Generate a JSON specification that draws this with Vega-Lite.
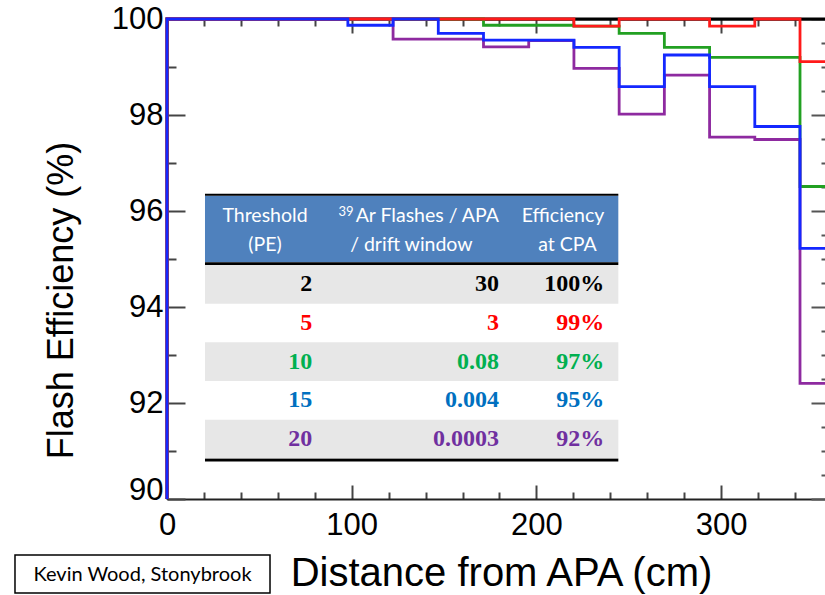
{
  "$schema": "https://vega.github.io/schema/vega-lite/v6.json",
  "width": 658,
  "height": 480,
  "autosize": {"type": "none"},
  "padding": {"left": 167, "top": 19, "right": 0, "bottom": 96},
  "background": "white",
  "config": {"view": {"stroke": null}, "font": "Liberation Sans"},
  "layer": [
    {
      "data": {"values": [
        {"pe":2,"x":0,"eff":90},{"pe":2,"x":0,"eff":100},{"pe":2,"x":24.48,"eff":100},{"pe":2,"x":48.96,"eff":100},{"pe":2,"x":73.44,"eff":100},{"pe":2,"x":97.92,"eff":100},{"pe":2,"x":122.4,"eff":100},{"pe":2,"x":146.88,"eff":100},{"pe":2,"x":171.36,"eff":100},{"pe":2,"x":195.84,"eff":100},{"pe":2,"x":220.32,"eff":100},{"pe":2,"x":244.8,"eff":100},{"pe":2,"x":269.28,"eff":100},{"pe":2,"x":293.76,"eff":100},{"pe":2,"x":318.24,"eff":100},{"pe":2,"x":342.72,"eff":100},{"pe":2,"x":367.2,"eff":100},
        {"pe":5,"x":0,"eff":90},{"pe":5,"x":0,"eff":100},{"pe":5,"x":24.48,"eff":100},{"pe":5,"x":48.96,"eff":100},{"pe":5,"x":73.44,"eff":100},{"pe":5,"x":97.92,"eff":100},{"pe":5,"x":122.4,"eff":100},{"pe":5,"x":146.88,"eff":100},{"pe":5,"x":171.36,"eff":100},{"pe":5,"x":195.84,"eff":100},{"pe":5,"x":220.32,"eff":99.85},{"pe":5,"x":244.8,"eff":100},{"pe":5,"x":269.28,"eff":100},{"pe":5,"x":293.76,"eff":99.85},{"pe":5,"x":318.24,"eff":100},{"pe":5,"x":342.72,"eff":99.11},{"pe":5,"x":367.2,"eff":99.11},
        {"pe":10,"x":0,"eff":90},{"pe":10,"x":0,"eff":100},{"pe":10,"x":24.48,"eff":100},{"pe":10,"x":48.96,"eff":100},{"pe":10,"x":73.44,"eff":100},{"pe":10,"x":97.92,"eff":100},{"pe":10,"x":122.4,"eff":100},{"pe":10,"x":146.88,"eff":100},{"pe":10,"x":171.36,"eff":99.87},{"pe":10,"x":195.84,"eff":99.87},{"pe":10,"x":220.32,"eff":99.85},{"pe":10,"x":244.8,"eff":99.7},{"pe":10,"x":269.28,"eff":99.41},{"pe":10,"x":293.76,"eff":99.2},{"pe":10,"x":318.24,"eff":99.2},{"pe":10,"x":342.72,"eff":96.51},{"pe":10,"x":367.2,"eff":96.51},
        {"pe":15,"x":0,"eff":90},{"pe":15,"x":0,"eff":100},{"pe":15,"x":24.48,"eff":100},{"pe":15,"x":48.96,"eff":100},{"pe":15,"x":73.44,"eff":100},{"pe":15,"x":97.92,"eff":99.87},{"pe":15,"x":122.4,"eff":100},{"pe":15,"x":146.88,"eff":99.7},{"pe":15,"x":171.36,"eff":99.56},{"pe":15,"x":195.84,"eff":99.56},{"pe":15,"x":220.32,"eff":99.41},{"pe":15,"x":244.8,"eff":98.59},{"pe":15,"x":269.28,"eff":99.25},{"pe":15,"x":293.76,"eff":98.59},{"pe":15,"x":318.24,"eff":97.76},{"pe":15,"x":342.72,"eff":95.22},{"pe":15,"x":367.2,"eff":95.22},
        {"pe":20,"x":0,"eff":90},{"pe":20,"x":0,"eff":100},{"pe":20,"x":24.48,"eff":100},{"pe":20,"x":48.96,"eff":100},{"pe":20,"x":73.44,"eff":100},{"pe":20,"x":97.92,"eff":100},{"pe":20,"x":122.4,"eff":99.58},{"pe":20,"x":146.88,"eff":99.58},{"pe":20,"x":171.36,"eff":99.42},{"pe":20,"x":195.84,"eff":99.55},{"pe":20,"x":220.32,"eff":98.97},{"pe":20,"x":244.8,"eff":98.02},{"pe":20,"x":269.28,"eff":98.83},{"pe":20,"x":293.76,"eff":97.54},{"pe":20,"x":318.24,"eff":97.49},{"pe":20,"x":342.72,"eff":92.41},{"pe":20,"x":367.2,"eff":92.41}
      ]},
      "layer": [
        {
          "transform": [{"filter": "datum.pe == 2"}],
          "mark": {"type": "line", "interpolate": "step-after", "strokeWidth": 2.8, "color": "#000000"},
          "encoding": {
            "x": {"field": "x", "type": "quantitative", "scale": {"domain": [0, 356.25], "nice": false, "zero": false},
              "axis": {"orient": "bottom", "values": [0,20,40,60,80,100,120,140,160,180,200,220,240,260,280,300,320,340],
                "format": "d",
                "tickSize": {"condition": {"test": "datum.value % 100 === 0", "value": -14}, "value": -7},
                "labelExpr": "datum.value % 100 === 0 ? datum.label : ''",
                "labelPadding": 25, "labelFontSize": 31, "labelColor": "#000", "labelFlush": false, "labelOverlap": false,
                "tickColor": "#444", "tickWidth": 2, "domainColor": "#222", "domainWidth": 2, "grid": false,
                "title": "Distance from APA (cm)", "titleFontSize": 40, "titleFontWeight": "normal", "titleColor": "#000",
                "titleX": 334, "titleY": 86, "titleBaseline": "alphabetic", "titleAlign": "center"}},
            "y": {"field": "eff", "type": "quantitative", "scale": {"domain": [90, 100], "nice": false, "zero": false},
              "axis": {"orient": "left", "values": [90,90.5,91,91.5,92,92.5,93,93.5,94,94.5,95,95.5,96,96.5,97,97.5,98,98.5,99,99.5,100],
                "format": "d",
                "tickSize": {"condition": {"test": "datum.value % 2 === 0", "value": -18}, "value": -9},
                "labelExpr": "datum.value % 2 === 0 ? datum.label : ''",
                "labelBaseline": {"condition": {"test": "datum.value === 90", "value": "alphabetic"}, "value": "middle"},
                "labelPadding": 22, "labelFontSize": 31, "labelColor": "#000", "labelFlush": false, "labelOverlap": false,
                "tickColor": "#444", "tickWidth": 2, "domainColor": "#222", "domainWidth": 2, "grid": false,
                "title": "Flash Efficiency (%)", "titleFontSize": 36, "titleFontWeight": "normal", "titleColor": "#000",
                "titleX": -95, "titleY": 281, "titleBaseline": "alphabetic", "titleAlign": "center", "titleAngle": 270}}
          }
        },
        {
          "transform": [{"filter": "datum.pe == 10"}],
          "mark": {"type": "line", "interpolate": "step-after", "strokeWidth": 2.8, "color": "#22a022"},
          "encoding": {
            "x": {"field": "x", "type": "quantitative", "scale": {"domain": [0, 356.25], "nice": false, "zero": false}, "axis": null},
            "y": {"field": "eff", "type": "quantitative", "scale": {"domain": [90, 100], "nice": false, "zero": false}, "axis": null}
          }
        },
        {
          "transform": [{"filter": "datum.pe == 20"}],
          "mark": {"type": "line", "interpolate": "step-after", "strokeWidth": 2.8, "color": "#8e2aa0"},
          "encoding": {
            "x": {"field": "x", "type": "quantitative", "scale": {"domain": [0, 356.25], "nice": false, "zero": false}, "axis": null},
            "y": {"field": "eff", "type": "quantitative", "scale": {"domain": [90, 100], "nice": false, "zero": false}, "axis": null}
          }
        },
        {
          "transform": [{"filter": "datum.pe == 5"}],
          "mark": {"type": "line", "interpolate": "step-after", "strokeWidth": 2.8, "color": "#ff1a1a"},
          "encoding": {
            "x": {"field": "x", "type": "quantitative", "scale": {"domain": [0, 356.25], "nice": false, "zero": false}, "axis": null},
            "y": {"field": "eff", "type": "quantitative", "scale": {"domain": [90, 100], "nice": false, "zero": false}, "axis": null}
          }
        },
        {
          "transform": [{"filter": "datum.pe == 15"}],
          "mark": {"type": "line", "interpolate": "step-after", "strokeWidth": 2.8, "color": "#1428ff"},
          "encoding": {
            "x": {"field": "x", "type": "quantitative", "scale": {"domain": [0, 356.25], "nice": false, "zero": false}, "axis": null},
            "y": {"field": "eff", "type": "quantitative", "scale": {"domain": [90, 100], "nice": false, "zero": false}, "axis": null}
          }
        },
        {
          "data": {"values": [{}]},
          "mark": {"type": "rect", "color": "#4f81bd"},
          "encoding": {
            "x": {"datum": 20.57, "type": "quantitative", "scale": {"domain": [0, 356.25], "nice": false, "zero": false}, "axis": null},
            "x2": {"datum": 244.35},
            "y": {"datum": 96.319, "type": "quantitative", "scale": {"domain": [90, 100], "nice": false, "zero": false}, "axis": null},
            "y2": {"datum": 94.931}
          }
        },
        {
          "data": {"values": [{}]},
          "mark": {"type": "rule", "color": "#000000", "strokeWidth": 2},
          "encoding": {
            "x": {"datum": 20.57, "type": "quantitative", "scale": {"domain": [0, 356.25], "nice": false, "zero": false}, "axis": null},
            "x2": {"datum": 244.35},
            "y": {"datum": 96.34, "type": "quantitative", "scale": {"domain": [90, 100], "nice": false, "zero": false}, "axis": null}
          }
        },
        {
          "data": {"values": [{}]},
          "mark": {"type": "rule", "color": "#000000", "strokeWidth": 2.8},
          "encoding": {
            "x": {"datum": 20.57, "type": "quantitative", "scale": {"domain": [0, 356.25], "nice": false, "zero": false}, "axis": null},
            "x2": {"datum": 244.35},
            "y": {"datum": 94.902, "type": "quantitative", "scale": {"domain": [90, 100], "nice": false, "zero": false}, "axis": null}
          }
        },
        {
          "data": {"values": [{}]},
          "mark": {"type": "rule", "color": "#000000", "strokeWidth": 3},
          "encoding": {
            "x": {"datum": 20.57, "type": "quantitative", "scale": {"domain": [0, 356.25], "nice": false, "zero": false}, "axis": null},
            "x2": {"datum": 244.35},
            "y": {"datum": 90.81, "type": "quantitative", "scale": {"domain": [90, 100], "nice": false, "zero": false}, "axis": null}
          }
        },
        {
          "data": {"values": [
            {"label": "Threshold", "cx": 53.06, "cy": 95.902},
            {"label": "(PE)", "cx": 53.06, "cy": 95.292},
            {"label": "/ drift window", "cx": 132.3, "cy": 95.292},
            {"label": "Efficiency", "cx": 214.4, "cy": 95.902},
            {"label": "at CPA", "cx": 216.8, "cy": 95.292}
          ]},
          "mark": {"type": "text", "font": "Lato", "fontSize": 19.5, "color": "#ffffff", "align": "center", "baseline": "middle"},
          "encoding": {
            "x": {"field": "cx", "type": "quantitative", "scale": {"domain": [0, 356.25], "nice": false, "zero": false}, "axis": null},
            "y": {"field": "cy", "type": "quantitative", "scale": {"domain": [90, 100], "nice": false, "zero": false}, "axis": null},
            "text": {"field": "label"}
          }
        },
        {
          "data": {"values": [{}]},
          "mark": {"type": "text", "font": "Lato", "fontSize": 19.5, "color": "#ffffff", "align": "right", "baseline": "middle", "text": "Ar Flashes / APA"},
          "encoding": {
            "x": {"datum": 179.75, "type": "quantitative", "scale": {"domain": [0, 356.25], "nice": false, "zero": false}, "axis": null},
            "y": {"datum": 95.902, "type": "quantitative", "scale": {"domain": [90, 100], "nice": false, "zero": false}, "axis": null}
          }
        },
        {
          "data": {"values": [{}]},
          "mark": {"type": "text", "font": "Lato", "fontSize": 13, "color": "#ffffff", "align": "right", "baseline": "middle", "text": "39"},
          "encoding": {
            "x": {"datum": 101.0, "type": "quantitative", "scale": {"domain": [0, 356.25], "nice": false, "zero": false}, "axis": null},
            "y": {"datum": 95.985, "type": "quantitative", "scale": {"domain": [90, 100], "nice": false, "zero": false}, "axis": null}
          }
        },
        {
          "data": {"values": [{}]},
          "mark": {"type": "rect", "fill": "#ffffff", "stroke": "#000000", "strokeWidth": 1.5},
          "encoding": {
            "x": {"datum": -82.3, "type": "quantitative", "scale": {"domain": [0, 356.25], "nice": false, "zero": false}, "axis": null},
            "x2": {"datum": 55.77},
            "y": {"datum": 88.833, "type": "quantitative", "scale": {"domain": [90, 100], "nice": false, "zero": false}, "axis": null},
            "y2": {"datum": 88.042}
          }
        },
        {
          "data": {"values": [{}]},
          "mark": {"type": "text", "font": "Lato", "fontSize": 20, "color": "#000000", "align": "center", "baseline": "middle", "text": "Kevin Wood, Stonybrook"},
          "encoding": {
            "x": {"datum": -13.26, "type": "quantitative", "scale": {"domain": [0, 356.25], "nice": false, "zero": false}, "axis": null},
            "y": {"datum": 88.417, "type": "quantitative", "scale": {"domain": [90, 100], "nice": false, "zero": false}, "axis": null}
          }
        },
        {
          "data": {"values": [{}]},
          "mark": {"type": "point", "opacity": 0},
          "encoding": {
            "x": {"datum": 0, "type": "quantitative", "scale": {"domain": [0, 356.25], "nice": false, "zero": false},
              "axis": {"orient": "top", "values": [0,20,40,60,80,100,120,140,160,180,200,220,240,260,280,300,320,340],
                "tickSize": {"condition": {"test": "datum.value % 100 === 0", "value": -14}, "value": -7},
                "labels": false, "tickColor": "#444", "tickWidth": 2, "domainColor": "#111", "domainWidth": 2, "grid": false, "title": null}},
            "y": {"datum": 90, "type": "quantitative", "scale": {"domain": [90, 100], "nice": false, "zero": false},
              "axis": {"orient": "right", "offset": 5, "values": [90,90.5,91,91.5,92,92.5,93,93.5,94,94.5,95,95.5,96,96.5,97,97.5,98,98.5,99,99.5,100],
                "tickSize": {"condition": {"test": "datum.value % 2 === 0", "value": -19}, "value": -9},
                "labels": false, "domain": false, "tickColor": "#555", "tickWidth": 2, "grid": false, "title": null}}
          }
        }
      ],
      "resolve": {"axis": {"x": "independent", "y": "independent"}}
    },
    {
      "data": {"values": [
        {"pe": 2, "flashes": "30", "eff": "100%"},
        {"pe": 5, "flashes": "3", "eff": "99%"},
        {"pe": 10, "flashes": "0.08", "eff": "97%"},
        {"pe": 15, "flashes": "0.004", "eff": "95%"},
        {"pe": 20, "flashes": "0.0003", "eff": "92%"}
      ]},
      "layer": [
        {
          "transform": [{"filter": "datum.pe == 2 || datum.pe == 10 || datum.pe == 20"}],
          "mark": {"type": "rect", "color": "#e7e7e7"},
          "encoding": {
            "x": {"datum": 20.57, "type": "quantitative", "scale": {"domain": [0, 356.25], "nice": false, "zero": false}, "axis": null},
            "x2": {"datum": 244.35},
            "y": {"field": "pe", "type": "ordinal", "scale": {"type": "band", "domain": [2,5,10,15,20], "range": [246, 439.3], "paddingInner": 0, "paddingOuter": 0}, "axis": null}
          }
        },
        {
          "mark": {"type": "text", "font": "Liberation Serif", "fontWeight": "bold", "fontSize": 24, "align": "right", "baseline": "middle"},
          "encoding": {
            "x": {"datum": 78.7, "type": "quantitative", "scale": {"domain": [0, 356.25], "nice": false, "zero": false}, "axis": null},
            "y": {"field": "pe", "type": "ordinal", "scale": {"type": "band", "domain": [2,5,10,15,20], "range": [246, 439.3], "paddingInner": 0, "paddingOuter": 0}, "axis": null},
            "text": {"field": "pe", "type": "nominal"},
            "color": {"field": "pe", "type": "ordinal", "scale": {"domain": [2,5,10,15,20], "range": ["#000000", "#ff0000", "#00b050", "#0070c0", "#7030a0"]}, "legend": null}
          }
        },
        {
          "mark": {"type": "text", "font": "Liberation Serif", "fontWeight": "bold", "fontSize": 24, "align": "right", "baseline": "middle"},
          "encoding": {
            "x": {"datum": 179.7, "type": "quantitative", "scale": {"domain": [0, 356.25], "nice": false, "zero": false}, "axis": null},
            "y": {"field": "pe", "type": "ordinal", "scale": {"type": "band", "domain": [2,5,10,15,20], "range": [246, 439.3], "paddingInner": 0, "paddingOuter": 0}, "axis": null},
            "text": {"field": "flashes", "type": "nominal"},
            "color": {"field": "pe", "type": "ordinal", "scale": {"domain": [2,5,10,15,20], "range": ["#000000", "#ff0000", "#00b050", "#0070c0", "#7030a0"]}, "legend": null}
          }
        },
        {
          "mark": {"type": "text", "font": "Liberation Serif", "fontWeight": "bold", "fontSize": 24, "align": "right", "baseline": "middle"},
          "encoding": {
            "x": {"datum": 236.7, "type": "quantitative", "scale": {"domain": [0, 356.25], "nice": false, "zero": false}, "axis": null},
            "y": {"field": "pe", "type": "ordinal", "scale": {"type": "band", "domain": [2,5,10,15,20], "range": [246, 439.3], "paddingInner": 0, "paddingOuter": 0}, "axis": null},
            "text": {"field": "eff", "type": "nominal"},
            "color": {"field": "pe", "type": "ordinal", "scale": {"domain": [2,5,10,15,20], "range": ["#000000", "#ff0000", "#00b050", "#0070c0", "#7030a0"]}, "legend": null}
          }
        }
      ]
    }
  ],
  "resolve": {"scale": {"y": "independent"}, "axis": {"x": "independent", "y": "independent"}}
}
